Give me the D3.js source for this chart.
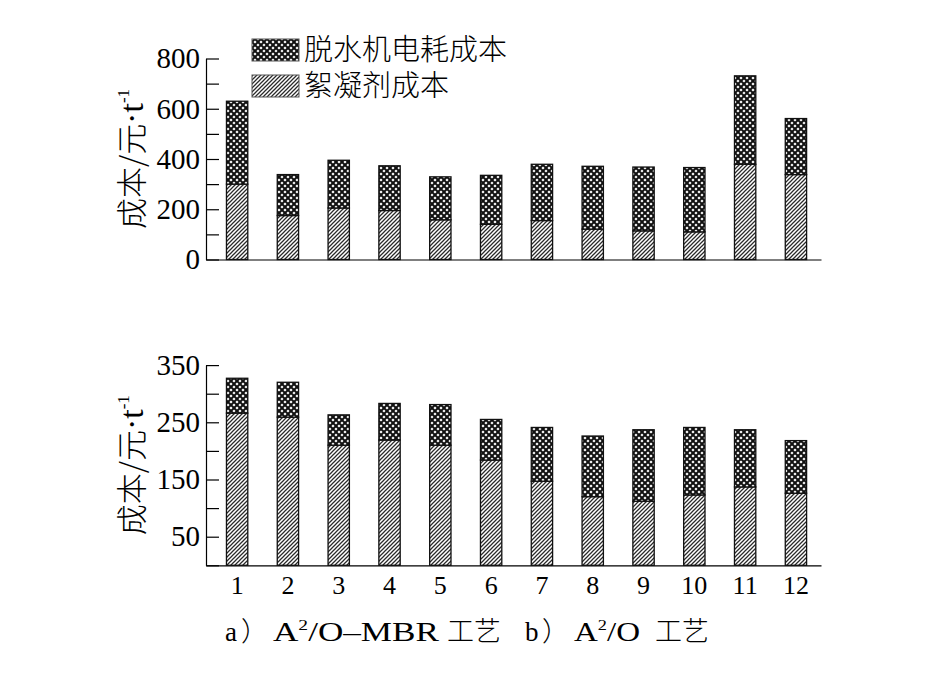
<!DOCTYPE html>
<html><head><meta charset="utf-8">
<script src="https://cdn.jsdelivr.net/npm/d3@7"></script>
<style>
body{margin:0;background:#fff;}
svg{display:block;}
.num{font-family:"Liberation Serif","Times New Roman",serif;}
.cjk{font-family:"Noto Sans CJK SC",sans-serif;font-weight:300;}
</style></head><body>
<svg id="c" width="945" height="685"></svg>
<script>
const categories = ["1","2","3","4","5","6","7","8","9","10","11","12"];
// a) A2/O-MBR
const mbrFlocculant = [300,175,205,195,158,140,155,121,114,110,379,338];
const mbrElectric   = [330,163,190,178,171,195,224,250,254,256,352,223];
// b) A2/O
const aoFlocculant = [266,259,210,219,210,184,147,120,112,123,137,126];
const aoElectric   = [61,61,53,64,71,71,94,106,125,118,100,92];
const seriesNames = ["脱水机电耗成本","絮凝剂成本"];
const topTicks = [0,100,200,300,400,500,600,700,800];
const topLabels = [0,200,400,600,800];
const botTicks = [0,50,100,150,200,250,300,350];
const botLabels = [50,150,250,350];

const svg = d3.select("#c");
const defs = svg.append("defs");
const pc = defs.append("pattern").attr("id","cross").attr("patternUnits","userSpaceOnUse")
  .attr("width",6).attr("height",6);
pc.append("rect").attr("width",6).attr("height",6).attr("fill","#fff");
pc.append("path").attr("d","M0,0L6,6M0,6L6,0M-3,3L3,-3M3,9L9,3M-3,3L3,9M3,-3L9,3")
  .attr("stroke","#111").attr("stroke-width",2.0);
const ph = defs.append("pattern").attr("id","hatch").attr("patternUnits","userSpaceOnUse")
  .attr("width",4).attr("height",4);
ph.append("rect").attr("width",4).attr("height",4).attr("fill","#fff");
ph.append("path").attr("d","M-1,1L1,-1M0,4L4,0M3,5L5,3")
  .attr("stroke","#2a2a2a").attr("stroke-width",1.25);

const x = d3.scaleBand().domain(categories).range([206,821])
  .paddingInner(0.58).paddingOuter(0.343).align(0.587);

function panel(yDomain, yRange, flocc, elec, ticks, labels, showX){
  const y = d3.scaleLinear().domain(yDomain).range(yRange);
  const g = svg.append("g");
  const ax = d3.axisLeft(y).tickValues(ticks).tickSizeInner(-13).tickSizeOuter(0).tickPadding(6)
    .tickFormat(d => labels.includes(d) ? d : "");
  const ga = g.append("g").attr("transform","translate(206,0)").call(ax);
  ga.selectAll("line,path").attr("stroke","#000").attr("stroke-width",1.2);
  ga.selectAll("text").attr("class","num").attr("font-size",29).attr("fill","#000").attr("font-family",null);
  const xa = d3.axisBottom(x).tickSize(0).tickPadding(10);
  const gx = g.append("g").attr("transform",`translate(0,${y(0)})`).call(xa);
  gx.selectAll("path").attr("stroke","#000").attr("stroke-width",1.2);
  gx.selectAll("text").attr("class","num").attr("font-size",26).attr("fill","#000").attr("font-family",null)
    .style("display", showX ? null : "none");
  const bars = g.append("g");
  categories.forEach((c,i)=>{
    bars.append("rect").attr("x",x(c)).attr("width",x.bandwidth())
      .attr("y",y(flocc[i])).attr("height",y(0)-y(flocc[i]))
      .attr("fill","url(#hatch)").attr("stroke","#111").attr("stroke-width",1.3);
    bars.append("rect").attr("x",x(c)).attr("width",x.bandwidth())
      .attr("y",y(flocc[i]+elec[i])).attr("height",y(flocc[i])-y(flocc[i]+elec[i]))
      .attr("fill","url(#cross)").attr("stroke","#111").attr("stroke-width",1.3);
  });
  const cy = (yRange[0]+yRange[1])/2;
  const t = g.append("text").attr("class","cjk").attr("font-size",31)
    .attr("transform",`translate(143,${cy}) rotate(-90)`).attr("text-anchor","middle");
  t.append("tspan").text("成本/元");
  t.append("tspan").attr("class","num").attr("font-size",34).text("·t");
  t.append("tspan").attr("class","num").attr("font-size",17).attr("dy",-14).text("-1");
  return y;
}
panel([0,800],[259.5,58.5],mbrFlocculant,mbrElectric,topTicks,topLabels,false);
panel([0,350],[565.3,365.1],aoFlocculant,aoElectric,botTicks,botLabels,true);

// legend
const lg = svg.append("g");
seriesNames.forEach((n,i)=>{
  const yy = 39 + i*36;
  lg.append("rect").attr("x",252).attr("y",yy).attr("width",47).attr("height",22)
    .attr("fill", i===0 ? "url(#cross)" : "url(#hatch)").attr("stroke","#555").attr("stroke-width",1);
  lg.append("text").attr("class","cjk").attr("x",304).attr("y",yy+11).attr("dy","0.36em")
    .attr("font-size",29).text(n);
});

// caption
const capY = 641;
function capText(xp, cls, len){
  const t = svg.append("text").attr("class",cls).attr("x",xp).attr("y",capY).attr("font-size",27);
  if(len) t.attr("textLength",len).attr("lengthAdjust","spacingAndGlyphs");
  return t;
}
capText(225,"num").text("a");
capText(241,"cjk").text("）");
let t1 = capText(273,"num",166);
t1.append("tspan").text("A");
t1.append("tspan").attr("font-size",15).attr("dy",-11).text("2");
t1.append("tspan").attr("dy",11).text("/O–MBR");
capText(447,"cjk").text("工艺");
capText(525,"num").text("b");
capText(542,"cjk").text("）");
let t2 = capText(574,"num",66);
t2.append("tspan").text("A");
t2.append("tspan").attr("font-size",15).attr("dy",-11).text("2");
t2.append("tspan").attr("dy",11).text("/O");
capText(655,"cjk").text("工艺");
</script></body></html>
